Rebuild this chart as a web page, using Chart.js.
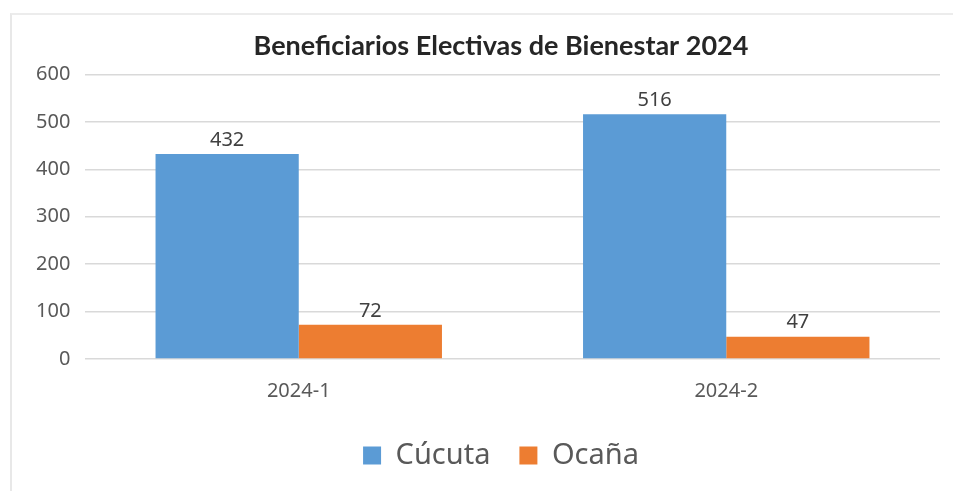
<!DOCTYPE html>
<html>
<head>
<meta charset="utf-8">
<script src="https://cdn.jsdelivr.net/npm/chart.js@4/dist/chart.umd.min.js"></script>
<style>
  html, body { margin: 0; padding: 0; background: #ffffff; }
  #wrap { position: relative; width: 953px; height: 491px; overflow: hidden; }
  #frame { position: absolute; left: 10px; top: 13px; width: 960px; height: 500px;
           border-left: 2px solid #e8e8e8; border-top: 2px solid #ececec; box-sizing: border-box; }
  canvas { position: absolute; left: 0; top: 0; }
</style>
</head>
<body>
<div id="wrap">
  <div id="frame"></div>
  <canvas id="c" width="953" height="491"></canvas>
</div>
<script>
const titleText = "Beneficiarios Electivas de Bienestar 2024";
const categories = ["2024-1", "2024-2"];
const seriesNames = ["Cúcuta", "Ocaña"];
const cucutaValues = [432, 516];
const ocanaValues = [72, 47];
const yTicks = [0, 100, 200, 300, 400, 500, 600];

const valueLabels = {
  id: 'valueLabels',
  afterDatasetsDraw(chart) {
    const ctx = chart.ctx;
    ctx.save();
    ctx.font = '20px "Noto Sans"';
    ctx.fillStyle = '#404040';
    ctx.textAlign = 'center';
    ctx.textBaseline = 'middle';
    chart.data.datasets.forEach((ds, i) => {
      chart.getDatasetMeta(i).data.forEach((bar, j) => {
        ctx.fillText(String(ds.data[j]), bar.x, bar.y - 14);
      });
    });
    ctx.restore();
  }
};

new Chart(document.getElementById('c'), {
  type: 'bar',
  data: {
    labels: categories,
    datasets: [
      { label: seriesNames[0], data: cucutaValues, backgroundColor: '#5B9BD5', borderWidth: 0 },
      { label: seriesNames[1], data: ocanaValues, backgroundColor: '#ED7D31', borderWidth: 0 }
    ]
  },
  options: {
    responsive: false,
    animation: false,
    devicePixelRatio: 1,
    layout: { padding: { left: 62, right: 13, top: 0, bottom: 11 } },
    datasets: { bar: { categoryPercentage: 0.67, barPercentage: 1.0 } },
    plugins: {
      title: {
        display: true,
        text: titleText,
        color: '#262626',
        font: { family: 'Lato, "Liberation Sans"', size: 27, weight: 'bold', lineHeight: 1.2 },
        padding: { top: 30, bottom: 12 }
      },
      legend: {
        position: 'bottom',
        labels: {
          color: '#595959',
          font: { family: '"Noto Sans"', size: 29, lineHeight: 1.2 },
          boxWidth: 18, boxHeight: 18, padding: 29
        }
      },
      tooltip: { enabled: false }
    },
    scales: {
      x: {
        grid: { display: false, drawTicks: false },
        border: { display: false },
        ticks: { color: '#595959', font: { family: '"Noto Sans"', size: 20 }, padding: 20 },
        afterFit(scale) { scale.height = 53; }
      },
      y: {
        min: 0, max: 600,
        afterBuildTicks(scale) { scale.ticks = yTicks.map(v => ({ value: v })); },
        grid: { color: '#d9d9d9', lineWidth: 1.5, drawTicks: false },
        border: { display: false },
        ticks: { color: '#595959', font: { family: '"Noto Sans"', size: 20 },
                 mirror: true, crossAlign: 'far', padding: -49 },
        afterFit(scale) { scale.width = 23; }
      }
    }
  },
  plugins: [valueLabels]
});
</script>
</body>
</html>
